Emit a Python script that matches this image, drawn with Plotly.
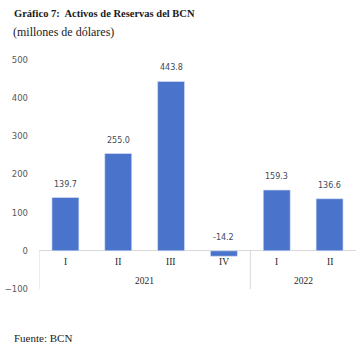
import plotly.graph_objects as go

quarters = ["I", "II", "III", "IV", "I", "II"]
years = ["2021", "2022"]
year_span = [4, 2]
values = [139.7, 255.0, 443.8, -14.2, 159.3, 136.6]
y_ticks = [-100, 0, 100, 200, 300, 400, 500]

W, H = 361, 355
ML, MR, MT, MB = 37, 5, 60, 66
pw = W - ML - MR
ph = H - MT - MB
SERIF = "Liberation Serif"

def px_to_paper(px, py):
    return (px - ML) / pw, (H - MB - py) / ph

xs = list(range(len(values)))
fig = go.Figure()
fig.add_trace(go.Bar(
    x=xs, y=values, width=0.51,
    marker=dict(color="#4a74cb", line=dict(color="#dce4f5", width=0.6)),
    hoverinfo="skip",
))

ann = []
for x, v in zip(xs, values):
    ann.append(dict(x=x, y=max(v, 0), xref="x", yref="y", text=f"{v:.1f}",
                    showarrow=False, yanchor="bottom", yshift=7,
                    font=dict(family="DejaVu Sans", size=8, color="#404a5a")))
for x, q in zip(xs, quarters):
    ann.append(dict(x=x, y=0, xref="x", yref="y", text=q, showarrow=False,
                    yanchor="middle", yshift=-11,
                    font=dict(family=SERIF, size=9.5, color="#262626")))
start = 0
shapes = []
for yr, n in zip(years, year_span):
    ann.append(dict(x=start + (n - 1) / 2, y=0, xref="x", yref="y", text=yr,
                    showarrow=False, yanchor="middle", yshift=-30,
                    font=dict(family=SERIF, size=9.5, color="#262626")))
    shapes.append(dict(type="line", xref="x", yref="y", x0=start - 0.5, x1=start - 0.5,
                       y0=0, y1=-100, line=dict(color="#d9d9d9", width=1)))
    start += n

tx, ty = px_to_paper(10, 14)
ann.append(dict(x=tx, y=ty, xref="paper", yref="paper", xanchor="left", yanchor="middle",
                text="<b>Gráfico 7:  Activos de Reservas del BCN</b>", showarrow=False,
                font=dict(family=SERIF, size=10.5, color="#1a1a1a")))
sx, sy = px_to_paper(9, 32)
ann.append(dict(x=sx, y=sy, xref="paper", yref="paper", xanchor="left", yanchor="middle",
                text="(millones de dólares)", showarrow=False,
                font=dict(family=SERIF, size=12, color="#1a1a1a")))
fx, fy = px_to_paper(10, 338)
ann.append(dict(x=fx, y=fy, xref="paper", yref="paper", xanchor="left", yanchor="middle",
                text="Fuente: BCN", showarrow=False,
                font=dict(family=SERIF, size=11, color="#1a1a1a")))

fig.update_layout(
    width=W, height=H,
    margin=dict(l=ML, r=MR, t=MT, b=MB),
    paper_bgcolor="white", plot_bgcolor="white",
    showlegend=False,
    xaxis=dict(range=[-0.5, len(values) - 0.5], showticklabels=False, showgrid=False,
               zeroline=False, showline=False, ticks=""),
    yaxis=dict(range=[-100, 500], tickvals=y_ticks, showgrid=False, zeroline=True,
               zerolinecolor="#d9d9d9", zerolinewidth=1, showline=False, ticks="",
               ticklabelstandoff=10,
               tickfont=dict(family="DejaVu Sans", size=8.5, color="#595959")),
    annotations=ann, shapes=shapes,
)

fig.write_html("out.html")
